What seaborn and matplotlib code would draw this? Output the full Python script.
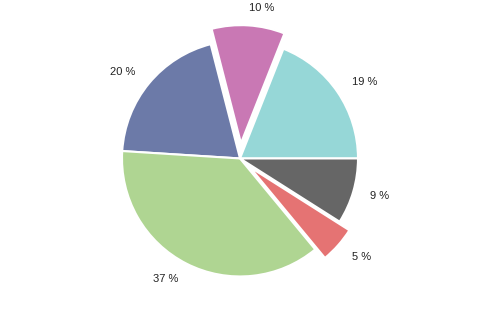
import matplotlib
matplotlib.use("Agg")
import matplotlib.pyplot as plt
import seaborn as sns

sns.set_theme(style="white")
plt.rcParams['font.family'] = ['Liberation Sans', 'DejaVu Sans']

values = [19, 10, 20, 37, 5, 9]
colors = ["#96d7d7", "#c978b4", "#6c7aa8", "#afd592", "#e57373", "#666666"]
explode = [0, 0.13, 0, 0, 0.11, 0]
labels = [f"{v} %" for v in values]

fig = plt.figure(figsize=(4.8, 3.2), dpi=100)
ax = fig.add_axes([0, 0, 1, 1])
ax.pie(values, labels=labels, colors=colors, explode=explode, startangle=0,
       counterclock=True, radius=1, labeldistance=1.15,
       wedgeprops=dict(edgecolor="white", linewidth=1.5),
       textprops=dict(fontsize=8, color="#222222"))
ax.set_xlim(-2.034, 2.034)
ax.set_ylim(-1.369, 1.343)
ax.set_aspect("equal")
ax.axis("off")
fig.savefig("out.png", dpi=100)
